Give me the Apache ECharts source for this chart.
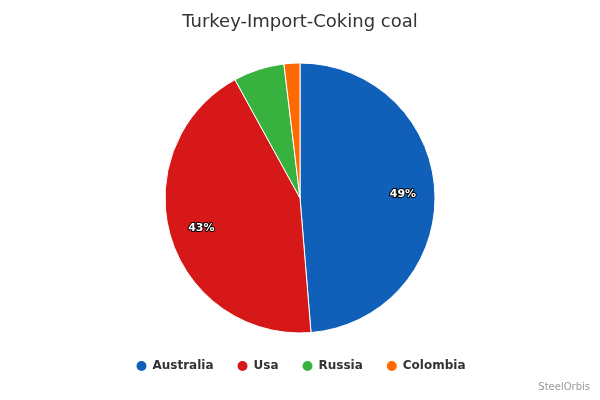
<!DOCTYPE html>
<html>
<head>
<meta charset="UTF-8">
<script src="https://cdn.jsdelivr.net/npm/echarts@6/dist/echarts.min.js"></script>
<style>body{margin:0}#c{width:600px;height:400px}</style>
</head>
<body>
<div id="c"></div>
<script>
const countries = ['Australia', 'Usa', 'Russia', 'Colombia'];
const shares = [48.7, 43.3, 6.1, 1.9];
const colors = ['#1060b9', '#d61818', '#37b23f', '#ff6a00'];

const data = countries.map((n, i) => ({ name: n, value: shares[i] }));
const chart = echarts.init(document.getElementById('c'));
chart.setOption({
    color: colors,
    title: {
        text: 'Turkey-Import-Coking coal', left: 'center', top: 8,
        textStyle: { fontFamily: 'DejaVu Sans', fontWeight: 'normal', fontSize: 18, color: '#333' }
    },
    legend: {
        data: countries, bottom: 22, icon: 'circle', itemWidth: 12, itemHeight: 12, itemGap: 22,
        textStyle: { fontFamily: 'DejaVu Sans', fontWeight: 'bold', fontSize: 12, color: '#333' }
    },
    graphic: [{
        type: 'text', right: 10, bottom: 8,
        style: { text: 'SteelOrbis', fontSize: 10, fill: '#999', fontFamily: 'DejaVu Sans' }
    }],
    series: [{
        type: 'pie', center: [300, 198], radius: 135, startAngle: 90, clockwise: true,
        animation: false, data: data,
        itemStyle: { borderColor: '#fff', borderWidth: 1 },
        label: { show: false }, labelLine: { show: false }, emphasis: { scale: false }
    }, {
        type: 'pie', center: [300, 198], radius: 200, startAngle: 90, clockwise: true,
        animation: false, silent: true, data: data,
        itemStyle: { color: 'transparent' },
        label: {
            position: 'inside',
            formatter: p => p.value > 10 ? Math.round(p.value) + '%' : '',
            color: '#fff', fontSize: 11, fontWeight: 'bold', fontFamily: 'DejaVu Sans',
            textBorderColor: '#000', textBorderWidth: 2
        }
    }]
});
</script>
</body>
</html>
